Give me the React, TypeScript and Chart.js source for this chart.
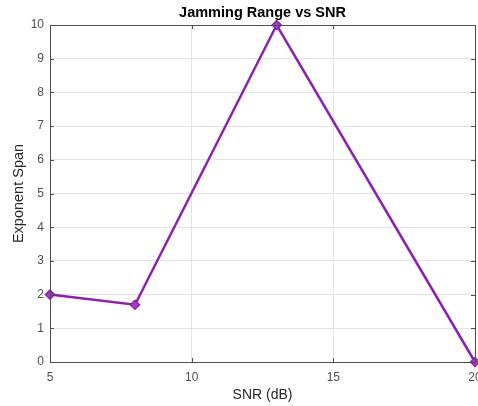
import React, { useEffect, useRef } from "react";
import { Chart, registerables } from "chart.js";

Chart.register(...registerables);

const snr = [5, 8, 13, 20];
const exponentSpan = [2, 1.7, 10, 0];
const xTicks = [5, 10, 15, 20];
const yTicks = [0, 1, 2, 3, 4, 5, 6, 7, 8, 9, 10];

const FONT = "'Liberation Sans', Arial, Helvetica, sans-serif";
const LINE = "#8c1fb4";

const boxPlugin = {
  id: "boxPlugin",
  afterDatasetsDraw(chart: any) {
    const { ctx, chartArea: a, scales } = chart;
    ctx.save();
    ctx.strokeStyle = "#4d4d4d";
    ctx.lineWidth = 1;
    const len = 4;
    ctx.beginPath();
    scales.x.ticks.forEach((t: any) => {
      const px = Math.round(scales.x.getPixelForValue(t.value)) + 0.5;
      ctx.moveTo(px, a.bottom);
      ctx.lineTo(px, a.bottom - len);
      ctx.moveTo(px, a.top);
      ctx.lineTo(px, a.top + len);
    });
    scales.y.ticks.forEach((t: any) => {
      const py = Math.round(scales.y.getPixelForValue(t.value)) + 0.5;
      ctx.moveTo(a.left, py);
      ctx.lineTo(a.left + len, py);
      ctx.moveTo(a.right, py);
      ctx.lineTo(a.right - len, py);
    });
    ctx.stroke();
    ctx.strokeRect(
      Math.round(a.left) + 0.5,
      Math.round(a.top) + 0.5,
      Math.round(a.right - a.left),
      Math.round(a.bottom - a.top)
    );
    ctx.restore();
  },
};

export default function App() {
  const ref = useRef<HTMLCanvasElement>(null);
  useEffect(() => {
    if (!ref.current) return;
    const chart = new Chart(ref.current, {
      type: "line",
      data: {
        datasets: [
          {
            data: snr.map((x, i) => ({ x, y: exponentSpan[i] })),
            borderColor: LINE,
            backgroundColor: LINE,
            borderWidth: 2.5,
            pointStyle: "rectRot",
            pointRadius: 4.5,
            pointBorderWidth: 1.5,
            pointBackgroundColor: "#a23fd0",
            pointBorderColor: LINE,
            tension: 0,
            clip: false as any,
          },
        ],
      },
      options: {
        animation: false,
        responsive: false,
        events: [],
        layout: { autoPadding: false, padding: { top: 0, right: 3, left: 0, bottom: 0 } },
        plugins: {
          legend: { display: false },
          tooltip: { enabled: false },
          title: {
            display: true,
            fullSize: false,
            text: "Jamming Range vs SNR",
            color: "#000000",
            font: { family: FONT, size: 14.5, weight: "bold" },
            padding: { top: 4, bottom: 3.6 },
          },
        },
        scales: {
          x: {
            type: "linear",
            min: 5,
            max: 20,
            afterBuildTicks(scale: any) {
              scale.ticks = xTicks.map((v) => ({ value: v }));
            },
            afterFit(scale: any) {
              scale.height = 44;
              scale.paddingRight = 0;
              scale.paddingLeft = 0;
            },
            ticks: {
              color: "#4d4d4d",
              font: { family: FONT, size: 12 },
              padding: 8,
              maxRotation: 0,
            },
            grid: { color: "#e3e3e3", drawTicks: false, lineWidth: 1 },
            border: { display: false },
            title: {
              display: true,
              text: "SNR (dB)",
              color: "#262626",
              font: { family: FONT, size: 14 },
              padding: { top: 2, bottom: 2 },
            },
          },
          y: {
            type: "linear",
            min: 0,
            max: 10,
            afterBuildTicks(scale: any) {
              scale.ticks = yTicks.map((v) => ({ value: v }));
            },
            afterFit(scale: any) {
              scale.width = 50;
            },
            ticks: {
              color: "#4d4d4d",
              font: { family: FONT, size: 12 },
              padding: 6,
            },
            grid: { color: "#e3e3e3", drawTicks: false, lineWidth: 1 },
            border: { display: false },
            title: {
              display: true,
              text: "Exponent Span",
              color: "#262626",
              font: { family: FONT, size: 14.5 },
              padding: { top: 10.3, bottom: 4 },
            },
          },
        },
      },
      plugins: [boxPlugin],
    });
    return () => chart.destroy();
  }, []);
  return (
    <div style={{ position: "fixed", left: 0, top: 0, width: 478, height: 406, background: "#fff" }}>
      <canvas ref={ref} width={478} height={406} />
    </div>
  );
}
